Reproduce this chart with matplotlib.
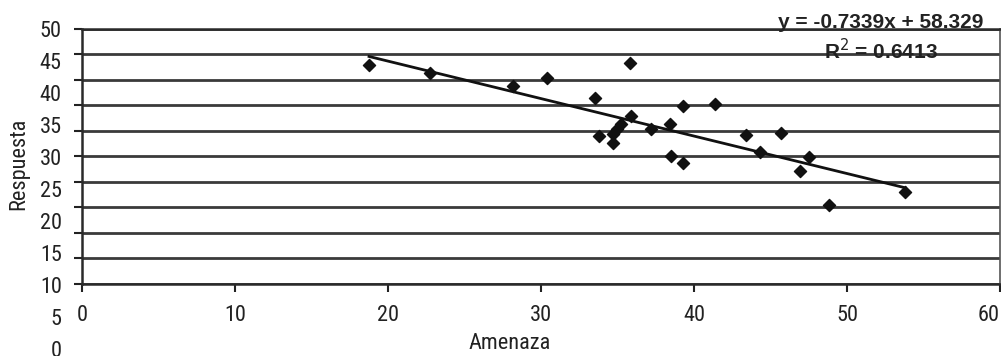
import matplotlib
matplotlib.use("Agg")
import matplotlib.pyplot as plt
import numpy as np
from matplotlib import font_manager

# ---- data ----
amenaza = [18.76, 22.75, 28.2, 30.37, 35.8, 33.5, 33.8, 34.7, 34.7, 34.95,
           35.2, 35.9, 37.2, 38.4, 38.5, 39.3, 39.3, 41.4, 43.4, 45.7,
           44.3, 47.5, 46.9, 53.8, 48.8]
respuesta = [42.9, 41.3, 38.8, 40.3, 43.3, 36.4, 28.9, 27.6, 29.3, 30.4,
             31.3, 32.9, 30.3, 31.3, 25.1, 23.6, 34.9, 35.2, 29.1, 29.6,
             25.9, 24.9, 22.2, 18.1, 15.5]
slope = -0.7339
intercept = 58.329
r2 = 0.6413
x_ticks = [0, 10, 20, 30, 40, 50, 60]
y_grid = [0, 5, 10, 15, 20, 25, 30, 35, 40, 45, 50]
y_tick_labels = ["50", "45", "40", "35", "30", "25", "20", "15", "10", "5", "0"]

names = {f.name for f in font_manager.fontManager.ttflist}
narrow = "Liberation Sans"
for cand in ["Liberation Sans Narrow", "Roboto Condensed", "Open Sans Condensed",
             "DejaVu Sans Condensed", "Arial Narrow"]:
    if cand in names:
        narrow = cand
        break
is_narrow = narrow != "Liberation Sans"
plt.rcParams['font.family'] = [narrow, 'DejaVu Sans']
fs_tick = 16 if is_narrow else 14
fs_lab = 16 if is_narrow else 14

fig = plt.figure(figsize=(10.01, 3.56), dpi=100)
ax = fig.add_axes([82/1001, 1 - 284/356, 918/1001, (284 - 28.7)/356])

ax.set_xlim(0, 60)
ax.set_ylim(0, 50)
ax.set_yticks(y_grid)
ax.set_yticklabels([])
ax.set_xticks(x_ticks)
ax.set_xticklabels([str(v) for v in x_ticks], fontsize=fs_tick, color='#222222')
ax.get_xticklabels()[-1].set_horizontalalignment('right')
ax.tick_params(axis='both', direction='out', length=6, width=1.5, color='#222222')
ax.tick_params(axis='x', pad=9)
ax.grid(axis='y', color='#3a3a3a', linewidth=2)
ax.set_axisbelow(True)
for s in ax.spines.values():
    s.set_color('#2a2a2a')
    s.set_linewidth(1.8)
ax.spines['right'].set_color('#555555')
ax.spines['right'].set_linewidth(1.2)

# y tick labels (misaligned as in the reference scan)
for i, lab in enumerate(y_tick_labels):
    ax.text(-0.022, 1.0 - i * 0.1253 - 0.012, lab, transform=ax.transAxes,
            ha='right', va='center', fontsize=fs_tick, color='#222222')

ax.scatter(amenaza, respuesta, marker='D', s=38, color='#111111', zorder=3)

xs = np.array([min(amenaza), max(amenaza)])
ax.plot(xs, slope * xs + intercept, color='#111111', linewidth=2, zorder=4)

ax.text(0.87, 1.025, f"y = {slope:.4f}x + {intercept:.3f}", transform=ax.transAxes,
        ha='center', va='center', fontsize=15, fontweight='bold',
        family=['Liberation Sans', 'DejaVu Sans'], color='#222222')
ax.text(0.87, 0.915, f"R$^2$ = {r2:.4f}", transform=ax.transAxes,
        ha='center', va='center', fontsize=15, fontweight='bold',
        family=['Liberation Sans', 'DejaVu Sans'], color='#222222')

ax.set_xlabel("Amenaza", fontsize=fs_lab, color='#222222')
ax.xaxis.set_label_coords(0.466, -0.19)
ax.set_ylabel("Respuesta", fontsize=fs_lab, color='#222222')
ax.yaxis.set_label_coords(-0.058, 0.47)

fig.savefig("out.png", dpi=100)
